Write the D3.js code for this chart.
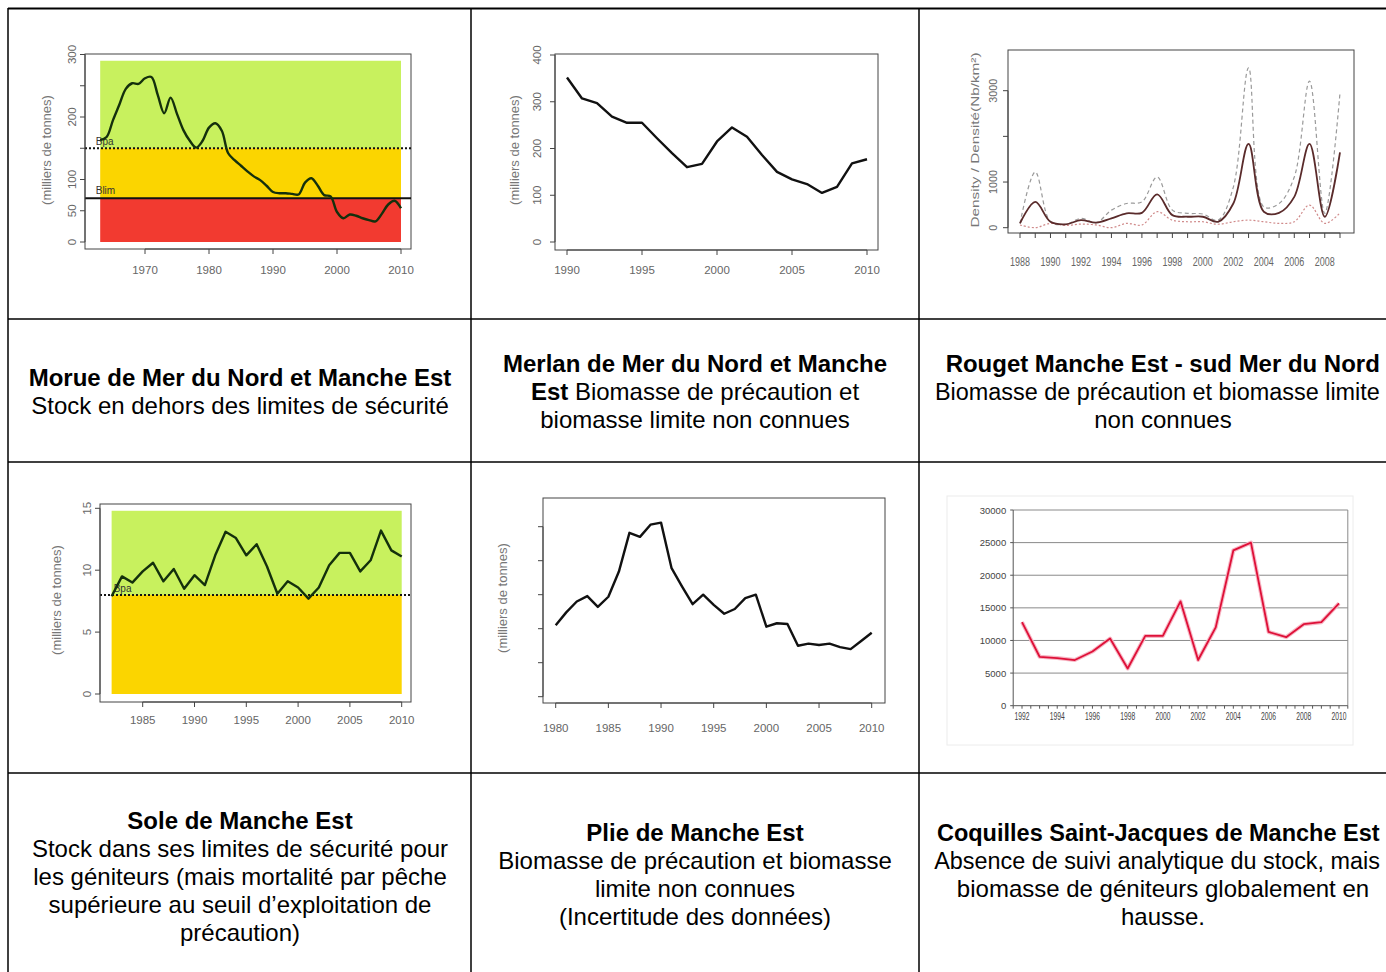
<!DOCTYPE html>
<html>
<head>
<meta charset="utf-8">
<script src="https://cdn.jsdelivr.net/npm/d3@7"></script>
<style>
  body { margin: 0; background: #fff; }
  svg { display: block; font-family: "Liberation Sans", Arial, sans-serif; }
</style>
</head>
<body>
<div id="chart"></div>
<script>
// ---- data ----
const morueYears = d3.range(1963, 2011);
const morueBiomass = [163,168,195,220,245,254,253,262,264,235,206,231,205,179,162,151,162,183,190,178,
  142,131,122,113,105,99,90,80,78,78,77,76,95,102,90,75,73,48,38,44,42,38,35,33,45,60,66,54];
const morueBpa = 150, morueBlim = 70;

const merlanYears = d3.range(1990, 2011);
const merlanBiomass = [352,307,297,268,255,255,222,190,160,167,215,245,225,186,150,134,124,105,118,168,177];

const rougetYears = d3.range(1988, 2010);
const rougetMean  = [95,565,130,75,165,110,205,315,325,730,275,240,240,130,530,1835,350,325,675,1835,240,1650];
const rougetUpper = [95,1220,130,75,205,110,385,530,565,1110,385,315,300,165,890,3500,455,530,1110,3210,315,2955];
const rougetLower = [60,0,95,50,80,60,0,95,60,350,165,130,130,75,130,165,130,95,130,495,95,325];

const soleYears = d3.range(1982, 2011);
const soleBiomass = [7.9,9.5,9.0,9.9,10.6,9.1,10.1,8.5,9.6,8.8,11.2,13.1,12.6,11.2,12.1,10.3,8.1,9.1,8.6,7.7,
  8.6,10.4,11.4,11.4,9.9,10.8,13.2,11.6,11.1];
const soleBpa = 8.0;

const plieYears = d3.range(1980, 2011);
const plieBiomass = [10.5,12.4,14.0,14.8,13.2,14.7,18.4,24.1,23.5,25.3,25.6,18.9,16.2,13.6,15.0,13.5,12.2,12.9,
  14.5,15.0,10.3,10.8,10.7,7.5,7.8,7.6,7.8,7.3,7.0,8.2,9.4];

const cocoYears = d3.range(1992, 2011);
const cocoBiomass = [12800,7500,7300,7000,8300,10300,5700,10700,10700,16000,7000,12000,23800,25000,11300,10500,12500,12800,15700];

const yTitle = "(milliers de tonnes)";

// caption texts: each line is a list of [text, bold]
const captionTop = [
  [[["Morue de Mer du Nord et Manche Est", 1]], [["Stock en dehors des limites de sécurité", 0]]],
  [[["Merlan de Mer du Nord et Manche", 1]], [["Est", 1], [" Biomasse de précaution et", 0]], [["biomasse limite non connues", 0]]],
  [[["Rouget Manche Est - sud Mer du Nord", 1]], [["Biomasse de précaution et biomasse limite", 0]], [["non connues", 0]]]
];
const captionBottom = [
  [[["Sole de Manche Est", 1]], [["Stock dans ses limites de sécurité pour", 0]], [["les géniteurs (mais mortalité par pêche", 0]],
   [["supérieure au seuil d’exploitation de", 0]], [["précaution)", 0]]],
  [[["Plie de Manche Est", 1]], [["Biomasse de précaution et biomasse", 0]], [["limite non connues", 0]], [["(Incertitude des données)", 0]]],
  [[["Coquilles Saint-Jacques de Manche Est", 1]], [["Absence de suivi analytique du stock, mais", 0]],
   [["biomasse de géniteurs globalement en", 0]], [["hausse.", 0]]]
];

// ---- page ----
const W = 1386, H = 972;
const svg = d3.select("#chart").append("svg").attr("width", W).attr("height", H);
svg.append("rect").attr("width", W).attr("height", H).attr("fill", "#fff");

// helpers for R-style plots
function box(g, x0, y0, x1, y1) {
  g.append("rect").attr("x", x0).attr("y", y0).attr("width", x1 - x0).attr("height", y1 - y0)
    .attr("fill", "none").attr("stroke", "#444").attr("stroke-width", 1);
}
function yAxisR(g, y, x, ticks, labels, labelX, fs, len) {
  g.append("line").attr("x1", x).attr("x2", x)
    .attr("y1", y(d3.min(ticks))).attr("y2", y(d3.max(ticks))).attr("stroke", "#444");
  ticks.forEach(t => g.append("line").attr("x1", x).attr("x2", x - 5)
    .attr("y1", y(t)).attr("y2", y(t)).attr("stroke", "#444"));
  labels.forEach(t => {
    const tx = g.append("text")
      .attr("transform", `translate(${labelX},${y(t)}) rotate(-90)`)
      .attr("text-anchor", "middle").attr("font-size", fs || 11.5).attr("fill", "#666").text(t);
    if (len) tx.attr("textLength", len * String(t).length).attr("lengthAdjust", "spacingAndGlyphs");
  });
}
function xAxisR(g, x, y, ticks, labels, labelY, fs, len) {
  g.append("line").attr("y1", y).attr("y2", y)
    .attr("x1", x(d3.min(ticks))).attr("x2", x(d3.max(ticks))).attr("stroke", "#444");
  ticks.forEach(t => g.append("line").attr("y1", y).attr("y2", y + 5)
    .attr("x1", x(t)).attr("x2", x(t)).attr("stroke", "#444"));
  labels.forEach(t => {
    const tx = g.append("text").attr("x", x(t)).attr("y", labelY)
      .attr("text-anchor", "middle").attr("font-size", fs || 11.5).attr("fill", "#666").text(t);
    if (len) tx.attr("textLength", len).attr("lengthAdjust", "spacingAndGlyphs");
  });
}
function yTitleR(g, x, y, txt) {
  g.append("text").attr("transform", `translate(${x},${y}) rotate(-90)`)
    .attr("text-anchor", "middle").attr("font-size", 13).attr("fill", "#777").text(txt);
}
function zone(g, x, y, xa, xb, ya, yb, fill) {
  g.append("rect").attr("x", x(xa)).attr("width", x(xb) - x(xa))
    .attr("y", y(yb)).attr("height", y(ya) - y(yb)).attr("fill", fill);
}
function series(g, x, y, years, vals, stroke, width, dash, curve) {
  g.append("path").datum(vals)
    .attr("d", d3.line().x((d, i) => x(years[i])).y(d => y(d)).curve(curve || d3.curveLinear))
    .attr("fill", "none").attr("stroke", stroke).attr("stroke-width", width)
    .attr("stroke-linejoin", "round").attr("stroke-dasharray", dash || null);
}

const GREEN = "#c8f15e", YELLOW = "#fbd500", RED = "#f23a30", DARK = "#14300c";

// ---- Morue ----
{
  const g = svg.append("g");
  const x = d3.scaleLinear().domain([1970, 2010]).range([145, 401]);
  const y = d3.scaleLinear().domain([0, 300]).range([242, 54.5]);
  zone(g, x, y, 1963, 2010, morueBpa, 290, GREEN);
  zone(g, x, y, 1963, 2010, morueBlim, morueBpa, YELLOW);
  zone(g, x, y, 1963, 2010, 0, morueBlim, RED);
  box(g, 85, 54, 411, 249);
  g.append("line").attr("x1", 85).attr("x2", 411).attr("y1", y(morueBpa)).attr("y2", y(morueBpa))
    .attr("stroke", "#111").attr("stroke-width", 2).attr("stroke-dasharray", "2,2");
  g.append("line").attr("x1", 85).attr("x2", 411).attr("y1", y(morueBlim)).attr("y2", y(morueBlim))
    .attr("stroke", "#111").attr("stroke-width", 2);
  g.append("text").attr("x", x(1962.3)).attr("y", y(morueBpa) - 3).attr("font-size", 10).attr("fill", "#333").text("Bpa");
  g.append("text").attr("x", x(1962.3)).attr("y", y(morueBlim) - 4).attr("font-size", 10).attr("fill", "#333").text("Blim");
  series(g, x, y, morueYears, morueBiomass, DARK, 2.4, null, d3.curveCatmullRom);
  yAxisR(g, y, 85, [0, 50, 100, 150, 200, 250, 300], [0, 50, 100, 200, 300], 76);
  xAxisR(g, x, 249, [1970, 1980, 1990, 2000, 2010], [1970, 1980, 1990, 2000, 2010], 274);
  yTitleR(g, 51, 150, yTitle);
}

// ---- Merlan ----
{
  const g = svg.append("g");
  const x = d3.scaleLinear().domain([1990, 2010]).range([567, 867]);
  const y = d3.scaleLinear().domain([0, 400]).range([242, 55]);
  box(g, 555, 54, 878, 250);
  series(g, x, y, merlanYears, merlanBiomass, "#111", 2.4);
  yAxisR(g, y, 555, [0, 100, 200, 300, 400], [0, 100, 200, 300, 400], 541);
  xAxisR(g, x, 250, [1990, 1995, 2000, 2005, 2010], [1990, 1995, 2000, 2005, 2010], 274);
  yTitleR(g, 519, 150, yTitle);
}

// ---- Rouget ----
{
  const g = svg.append("g");
  const x = d3.scaleLinear().domain([1988, 2009]).range([1020, 1340]);
  const y = d3.scaleLinear().domain([0, 3000]).range([227.7, 90.7]);
  box(g, 1008, 50, 1354, 233);
  series(g, x, y, rougetYears, rougetUpper, "#9a9a9a", 1.2, "4,3", d3.curveCatmullRom);
  series(g, x, y, rougetYears, rougetLower, "#d08a8a", 1.2, "2,2", d3.curveCatmullRom);
  series(g, x, y, rougetYears, rougetMean, "#5a2b2b", 1.8, null, d3.curveCatmullRom);
  yAxisR(g, y, 1008, [0, 1000, 2000, 3000], [0, 1000, 3000], 997, 10, 6);
  xAxisR(g, x, 233, rougetYears, rougetYears.filter(v => v % 2 === 0), 266, 12, 20);
  g.append("text").attr("transform", "translate(979,140) rotate(-90)")
    .attr("text-anchor", "middle").attr("font-size", 11).attr("fill", "#777")
    .attr("textLength", 175).attr("lengthAdjust", "spacingAndGlyphs").text("Density / Densité(Nb/km²)");
}

// ---- Sole ----
{
  const g = svg.append("g");
  const x = d3.scaleLinear().domain([1985, 2010]).range([142.7, 401.7]);
  const y = d3.scaleLinear().domain([0, 15]).range([694, 508.3]);
  zone(g, x, y, 1982, 2010, soleBpa, 14.8, GREEN);
  zone(g, x, y, 1982, 2010, 0, soleBpa, YELLOW);
  box(g, 100, 504, 411, 702);
  g.append("line").attr("x1", 100).attr("x2", 411).attr("y1", y(soleBpa)).attr("y2", y(soleBpa))
    .attr("stroke", "#111").attr("stroke-width", 2).attr("stroke-dasharray", "2,2");
  g.append("text").attr("x", x(1982.2)).attr("y", y(soleBpa) - 3).attr("font-size", 10).attr("fill", "#333").text("Bpa");
  series(g, x, y, soleYears, soleBiomass, DARK, 2.4);
  yAxisR(g, y, 100, [0, 5, 10, 15], [0, 5, 10, 15], 91);
  xAxisR(g, x, 702, [1985, 1990, 1995, 2000, 2005, 2010], [1985, 1990, 1995, 2000, 2005, 2010], 724);
  yTitleR(g, 61, 600, yTitle);
}

// ---- Plie ----
{
  const g = svg.append("g");
  const x = d3.scaleLinear().domain([1980, 2010]).range([555.7, 871.7]);
  const y = d3.scaleLinear().domain([0, 25]).range([696.7, 526.7]);
  box(g, 543, 498, 885, 703);
  series(g, x, y, plieYears, plieBiomass, "#111", 2.4);
  yAxisR(g, y, 543, [0, 5, 10, 15, 20, 25], [], 0);
  xAxisR(g, x, 703, [1980, 1985, 1990, 1995, 2000, 2005, 2010], [1980, 1985, 1990, 1995, 2000, 2005, 2010], 732);
  yTitleR(g, 507, 598, yTitle);
}

// ---- Coquilles (Excel style) ----
{
  const g = svg.append("g");
  const x = d3.scaleLinear().domain([1992, 2010]).range([1022, 1339]);
  const y = d3.scaleLinear().domain([0, 30000]).range([705.7, 510]);
  const x0 = x(1991.5), x1 = x(2010.5);
  g.append("rect").attr("x", 947).attr("y", 496).attr("width", 406).attr("height", 249)
    .attr("fill", "none").attr("stroke", "#ececec");
  const grid = [5000, 10000, 15000, 20000, 25000, 30000];
  grid.forEach(v => g.append("line").attr("x1", x0).attr("x2", x1).attr("y1", y(v)).attr("y2", y(v))
    .attr("stroke", "#8a8a8a").attr("stroke-width", 1));
  g.append("line").attr("x1", x1).attr("x2", x1).attr("y1", y(30000)).attr("y2", y(0)).attr("stroke", "#8a8a8a");
  g.append("line").attr("x1", x0).attr("x2", x0).attr("y1", y(30000)).attr("y2", y(0)).attr("stroke", "#555");
  g.append("line").attr("x1", x0).attr("x2", x1).attr("y1", y(0)).attr("y2", y(0)).attr("stroke", "#555");
  [0].concat(grid).forEach(v => {
    g.append("line").attr("x1", x0 - 3).attr("x2", x0).attr("y1", y(v)).attr("y2", y(v)).attr("stroke", "#555");
    g.append("text").attr("x", x0 - 7).attr("y", y(v) + 3.5).attr("text-anchor", "end")
      .attr("font-size", 9.5).attr("fill", "#444").text(v);
  });
  d3.range(1991.5, 2010.6, 0.5).forEach(v => g.append("line").attr("x1", x(v)).attr("x2", x(v))
    .attr("y1", y(0)).attr("y2", y(0) + 3).attr("stroke", "#555"));
  cocoYears.filter(v => v % 2 === 0).forEach(v => g.append("text").attr("x", x(v)).attr("y", 720)
    .attr("text-anchor", "middle").attr("font-size", 10).attr("fill", "#444")
    .attr("textLength", 15).attr("lengthAdjust", "spacingAndGlyphs").text(v));
  series(g, x, y, cocoYears, cocoBiomass, "#f7b6c4", 4);
  series(g, x, y, cocoYears, cocoBiomass, "#de1038", 1.8);
}

// ---- table ----
const T = svg.append("g").attr("stroke", "#000").attr("stroke-width", 1.5);
T.append("line").attr("x1", 8).attr("x2", W).attr("y1", 8.5).attr("y2", 8.5).attr("stroke-width", 2);
T.append("line").attr("x1", 8).attr("x2", 8).attr("y1", 8).attr("y2", H);
[471, 919].forEach(xv => T.append("line").attr("x1", xv).attr("x2", xv).attr("y1", 8).attr("y2", H));
[319, 462, 773].forEach(yv => T.append("line").attr("x1", 8).attr("x2", W).attr("y1", yv).attr("y2", yv));

const colCenters = [240, 695, 1163];
function caption(lines, cx, firstBaseline) {
  lines.forEach((segs, i) => {
    const t = svg.append("text").attr("x", cx).attr("y", firstBaseline + i * 28)
      .attr("text-anchor", "middle").attr("font-size", 24).attr("fill", "#000");
    segs.forEach(([s, b]) => t.append("tspan").attr("font-weight", b ? "bold" : "normal").text(s));
    // lines running past the right edge get a slightly smaller font, same left start
    const w = t.node().getComputedTextLength();
    if (cx + w / 2 > W - 6) {
      const left = cx - w / 2;
      t.attr("text-anchor", "start").attr("x", left)
        .attr("font-size", 24 * (W - 6 - left) / w);
    }
  });
}
caption(captionTop[0], colCenters[0], 386);
caption(captionTop[1], colCenters[1], 372);
caption(captionTop[2], colCenters[2], 372);
caption(captionBottom[0], colCenters[0], 829);
caption(captionBottom[1], colCenters[1], 841);
caption(captionBottom[2], colCenters[2], 841);
</script>
</body>
</html>
